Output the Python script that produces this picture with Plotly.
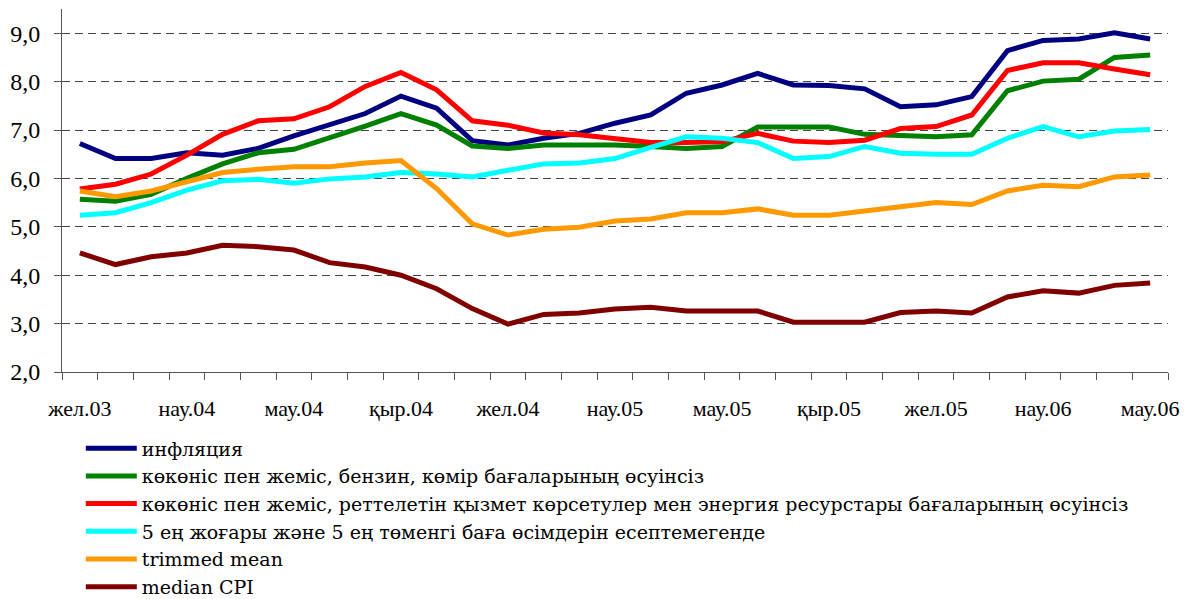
import plotly.graph_objects as go

months = ["жел.03", "қаң.04", "ақп.04", "нау.04", "сәу.04", "мам.04", "мау.04", "шіл.04",
          "там.04", "қыр.04", "қаз.04", "қар.04", "жел.04", "қаң.05", "ақп.05", "нау.05",
          "сәу.05", "мам.05", "мау.05", "шіл.05", "там.05", "қыр.05", "қаз.05", "қар.05",
          "жел.05", "қаң.06", "ақп.06", "нау.06", "сәу.06", "мам.06", "мау.06"]

inflation = [6.72, 6.41, 6.41, 6.53, 6.48, 6.62, 6.88, 7.10, 7.34, 7.70, 7.45, 6.78, 6.69, 6.83, 6.93, 7.14,
             7.31, 7.76, 7.93, 8.17, 7.93, 7.92, 7.85, 7.48, 7.52, 7.69, 8.64, 8.85, 8.88, 9.01, 8.88]
ex_veg_fuel = [5.57, 5.53, 5.67, 6.00, 6.30, 6.53, 6.60, 6.83, 7.08, 7.34, 7.10, 6.67, 6.62, 6.69, 6.69, 6.69,
               6.66, 6.62, 6.66, 7.06, 7.06, 7.06, 6.91, 6.89, 6.86, 6.90, 7.81, 8.01, 8.05, 8.50, 8.55]
ex_veg_reg = [5.78, 5.88, 6.09, 6.48, 6.91, 7.19, 7.23, 7.48, 7.90, 8.19, 7.83, 7.19, 7.10, 6.94, 6.90, 6.83,
              6.74, 6.74, 6.76, 6.93, 6.77, 6.74, 6.79, 7.03, 7.07, 7.31, 8.23, 8.39, 8.39, 8.26, 8.14]
ex_5_5 = [5.24, 5.29, 5.50, 5.76, 5.95, 5.98, 5.90, 5.99, 6.03, 6.12, 6.09, 6.03, 6.17, 6.30, 6.32, 6.41,
          6.64, 6.86, 6.83, 6.74, 6.41, 6.45, 6.66, 6.52, 6.50, 6.50, 6.83, 7.07, 6.86, 6.98, 7.01]
trimmed_mean = [5.74, 5.62, 5.74, 5.92, 6.12, 6.19, 6.24, 6.24, 6.32, 6.37, 5.79, 5.06, 4.83, 4.95, 4.99, 5.12,
                5.16, 5.29, 5.29, 5.37, 5.24, 5.24, 5.33, 5.41, 5.50, 5.46, 5.74, 5.86, 5.83, 6.03, 6.07]
median_cpi = [4.46, 4.22, 4.38, 4.46, 4.62, 4.59, 4.52, 4.26, 4.17, 4.00, 3.72, 3.31, 2.99, 3.19, 3.22, 3.30,
              3.34, 3.26, 3.26, 3.26, 3.03, 3.03, 3.03, 3.23, 3.26, 3.22, 3.55, 3.68, 3.63, 3.79, 3.84]

series_names = [
    "инфляция",
    "көкөніс пен жеміс, бензин, көмір бағаларының өсуінсіз",
    "көкөніс пен жеміс, реттелетін қызмет көрсетулер мен энергия ресурстары бағаларының өсуінсіз",
    "5 ең жоғары және 5 ең төменгі баға өсімдерін есептемегенде",
    "trimmed mean",
    "median CPI",
]
series_values = [inflation, ex_veg_fuel, ex_veg_reg, ex_5_5, trimmed_mean, median_cpi]
colors = ["#000080", "#008000", "#FF0000", "#00FFFF", "#FF9900", "#800000"]

y_ticks = [2, 3, 4, 5, 6, 7, 8, 9]

x = list(range(len(months)))
tick_idx = list(range(0, len(months), 3))

FONT = '"Liberation Serif", "Times New Roman", "DejaVu Serif", serif'
LEG_FONT = '"DejaVu Serif", serif'

fig = go.Figure()
for name, vals, col in zip(series_names, series_values, colors):
    fig.add_trace(go.Scatter(x=x, y=vals, mode="lines", name=name,
                             line=dict(color=col, width=5)))

fig.update_layout(
    width=1193, height=599,
    paper_bgcolor="white", plot_bgcolor="white",
    margin=dict(l=62, r=25, t=9, b=227, autoexpand=False),
    separators=", ",
    font=dict(family=FONT, color="black", size=21),
    showlegend=True,
    legend=dict(x=0.017, xanchor="left", y=-0.158, yanchor="top",
                orientation="v", font=dict(family=LEG_FONT, size=19, color="black"),
                tracegroupgap=0, bgcolor="rgba(0,0,0,0)", itemwidth=51),
)

fig.update_xaxes(
    range=[-0.5, len(months) - 0.5],
    tickmode="array", tickvals=tick_idx, ticktext=[months[i] for i in tick_idx],
    ticks="", showgrid=False, zeroline=False,
    showline=True, linecolor="#555555", linewidth=1,
    tickfont=dict(family=FONT, size=22, color="black"),
    ticklabelstandoff=17,
    minor=dict(tickmode="linear", tick0=-0.5, dtick=1, ticks="outside",
               ticklen=7, tickcolor="#555555", tickwidth=1, showgrid=False),
)

fig.update_yaxes(
    range=[2, 9.5],
    tickmode="array", tickvals=y_ticks, tickformat=".1f",
    ticks="outside", ticklen=7, tickcolor="#555555",
    showline=True, linecolor="#555555", linewidth=1,
    showgrid=True, gridcolor="#444444", gridwidth=1, griddash="8px,5px",
    zeroline=False,
    tickfont=dict(family=FONT, size=24, color="black"),
    ticklabelstandoff=9,
)

fig.write_html("out.html", config={"displayModeBar": False},
               post_script="document.body.style.margin='0';document.body.style.overflow='hidden';")
